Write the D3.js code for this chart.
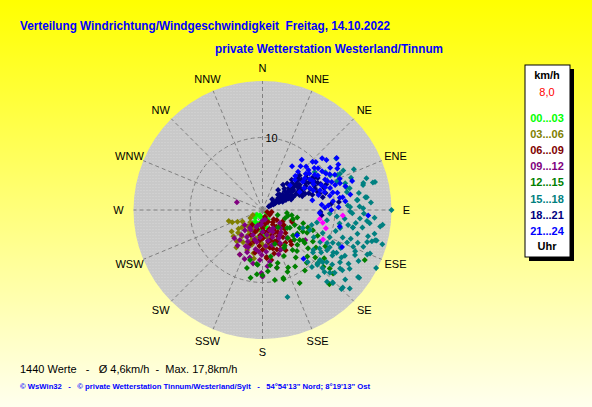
<!DOCTYPE html>
<html lang="de">
<head>
<meta charset="UTF-8">
<title>Verteilung Windrichtung/Windgeschwindigkeit</title>
<script src="https://cdn.jsdelivr.net/npm/d3@7"></script>
<style>
  html, body { margin: 0; padding: 0; overflow: hidden; }
  svg { display: block; font-family: "Liberation Sans", Arial, sans-serif; }
  text { white-space: pre; }
</style>
</head>
<body>
<div id="chart"></div>
<script>
// Windrichtungen (Grad) und Geschwindigkeiten (km/h), je Stundenband
const directions = ["N","NNE","NE","ENE","E","ESE","SE","SSE","S","SSW","SW","WSW","W","WNW","NW","NNW"];
const ringTicks = [10];
const maxSpeed = 17.8;
const bandLabels = ["00...03","03...06","06...09","09...12","12...15","15...18","18...21","21...24"];
const bandColors = ["#00ff00","#808000","#800000","#800080","#008000","#008080","#000080","#0000ff"];

const h00_03 = [[124,0.7],[206,0.8],[223,1.5],[180,2.1],[197,2.6],[159,1.8],[179,3.0],[189,3.9],[216,2.2],[170,1.2],
  [195,1.0],[150,1.5],[185,1.6],[200,3.2],[165,2.6],[210,1.9],[175,3.4],[230,1.0],
  [185,2.8],[195,2.0],[175,2.3],[205,2.6],[160,1.0]];
const h03_06 = [[248,4.5],[252,4.9],[230,3.7],[227,4.6],[211,5.2],[210,4.0],[197,5.0],[188,5.6],[201,5.9],[192,6.1],
  [176,5.3],[237,2.0],[242,1.5],[162,4.6],[163,3.6],[186,3.5],[207,6.9],[219,5.6],[171,4.9],[222,3.0],
  [200,4.4],[183,4.5],[215,6.3],[235,5.2],[195,3.0],[170,3.9],[225,2.4],[205,2.8],
  [240,3.2],[232,4.2],[218,4.6],[213,3.4],[203,5.2],[193,4.0],[180,4.8],[245,3.8],[228,5.4],[190,6.8]];
const h06_09 = [[114,0.7],[124,1.2],[163,1.2],[155,1.8],[145,2.5],[125,2.4],[131,3.6],[145,3.7],[159,3.7],[179,3.9],
  [159,4.7],[143,4.7],[175,6.7],[109,4.3],[112,4.4],[199,3.2],[215,2.5],[180,2.5],[169,5.3],[156,6.0],
  [154,4.6],[170,7.0],[175,6.5],[153,5.4],[102,1.3],[140,3.0],[165,3.0],[190,2.0],[150,4.2],[135,4.5],
  [185,5.0],[160,5.8],[130,2.0],[170,2.0],[145,5.5],[195,4.5],[120,3.2],[165,4.3],[205,3.8],[140,6.2],
  [150,3.5],[160,2.8],[170,4.5],[175,3.0],[185,3.5],[195,2.8],[145,3.0],[135,3.2],[155,5.0],[165,5.5],
  [180,5.5],[190,6.0],[130,4.0],[125,3.6],[140,2.2],[175,1.5],[160,1.0],[150,6.4],[165,6.2],[185,4.2],
  [200,5.0],[138,5.8]];
const h09_12 = [[287,3.7],[221,3.7],[217,5.2],[210,4.3],[190,4.5],[181,6.2],[207,6.9],[181,8.7],[166,8.2],[172,7.2],
  [152,5.2],[150,2.9],[139,5.1],[125,7.2],[170,3.5],[201,3.7],[197,2.2],[166,1.4],[127,3.0],[201,5.5],
  [200,6.2],[183,6.9],[160,4.0],[180,3.0],[190,5.5],[215,3.0],[145,4.2],[175,5.0],[230,3.2],[160,6.5],
  [185,2.0],[135,3.5],[205,4.8],[195,6.8],[155,3.3],[180,9.2],
  [160,3.0],[170,4.3],[185,3.8],[195,4.2],[205,5.5],[210,3.2],[220,4.5],[175,5.8],[165,5.0],[150,4.5],
  [140,4.0],[190,7.5],[200,7.2],[175,7.8],[155,6.0],[185,5.8],[215,6.0],[225,5.5],[180,1.5],[200,2.5]];
const h12_15 = [[123,4.5],[116,5.7],[115,4.9],[138,5.2],[135,6.8],[128,7.4],[130,8.2],[143,6.9],[172,7.7],[185,7.6],
  [194,7.1],[195,8.3],[180,9.0],[163,9.8],[150,9.0],[153,11.3],[108,2.2],[110,3.3],[97,3.4],[100,4.1],
  [186,7.5],[164,7.6],[156,8.7],[138,13.8],[132,13.1],[133,11.5],[134,10.6],[163,10.0],[166,8.2],[122,8.2],
  [116,15.7],[117,6.9],[129,6.6],[130,5.5],[126,4.2],[138,3.2],[102,4.9],[103,3.6],[108,5.9],[111,6.7],
  [112,7.5],[127,7.0],[131,12.3],[150,6.0],[140,9.5],[120,10.0],[145,8.0],[160,5.0],[125,9.0],[170,9.8],
  [155,7.0],[190,9.5],
  [118,6.3],[124,5.8],[133,6.0],[140,7.4],[145,10.2],[158,9.2],[175,8.5],[132,9.8],[128,10.8],[136,8.9],
  [115,8.4],[107,4.4],[148,5.8],[170,6.5],[185,8.9]];
const h15_18 = [[64,12.4],[65,11.4],[75,12.0],[76,16.0],[75,14.4],[83,14.5],[88,13.4],[91,12.1],[96,14.5],[98,16.4],
  [105,16.1],[106,17.2],[117,17.6],[124,14.5],[124,12.9],[123,11.5],[122,10.5],[131,10.5],[113,7.1],[130,9.1],
  [133,12.7],[136,13.9],[138,13.3],[164,12.5],[104,13.5],[101,12.7],[109,11.7],[111,12.5],[100,10.8],[95,10.3],
  [93,9.3],[116,14.2],[107,15.1],[112,16.0],[119,13.0],[115,10.7],[111,8.9],[103,7.7],[119,9.1],[127,13.4],
  [134,11.5],[125,16.3],[90,17.8],[84,13.2],[87,11.8],[92,12.4],[96,11.4],[100,12.0],[101,12.7],[104,15.0],
  [105,16.3],[106,15.7],[109,13.9],[114,14.0],[113,15.7],[127,13.8],[130,14.9],[131,13.2],[135,12.1],[128,8.9],
  [107,7.1],[114,6.1],[121,11.4],[121,12.7],[129,11.4],[134,10.6],[125,16.1],[135,15.4],[136,14.0],[119,10.6],
  [97,14.9],[76,15.7],[76,14.3],[76,12.4],[72,12.0],[83,14.3],[84,13.1],[97,16.7],[95,13.5],[55,12.4],
  [65,11.8],[63,10.5],[69,11.0],[78,11.9],[88,12.1],[89,13.9],[59,10.1],[54,8.9],[139,9.5],[135,10.7],
  [134,15.4],[139,10.4],
  [100,14.0],[103,11.0],[108,12.8],[112,13.5],[116,12.0],[118,15.0],[120,11.8],[122,14.0],[126,10.0],[128,12.2],
  [131,11.0],[94,15.5],[98,13.0],[102,15.8],[110,14.8],[114,11.5],[117,10.0],[124,9.5],[80,13.5],[86,15.0],
  [92,14.0],[70,13.0],[66,13.8],[73,15.0],[132,16.2],[140,12.0],[112,10.0],[106,10.5],[99,9.0],[118,8.0]];
const h18_21 = [[60,1.0],[58,1.5],[62,2.0],[55,2.5],[65,2.5],[57,3.0],[63,3.2],[52,3.5],[60,3.8],[67,3.5],
  [55,4.2],[62,4.5],[50,4.8],[58,5.0],[65,5.0],[53,5.5],[60,5.8],[68,5.5],[56,6.2],[63,6.5],
  [50,6.5],[58,7.0],[66,7.2],[54,7.5],[61,7.8],[70,6.8],[57,8.2],[64,8.5],[72,8.0],[75,9.0],
  [68,9.5],[92,8.0],[95,8.2],[84,10.6],[61,1.3],[59,2.3],[64,2.8],[56,3.4],[61,4.1],[58,4.6],
  [54,5.2],[63,5.4],[59,6.0],[66,6.0],[52,6.0],[61,6.8],[55,7.0],[68,7.8],[60,8.8],[85,9.5],
  [78,8.5],[47,7.0],[70,4.2],[66,3.9],[39,4.5],[38,3.5],[46,6.6],[43,5.0],[45,3.0],[42,2.0],
  [57,1.8],[63,1.7],[53,2.8],[60,3.0],[68,3.0],[50,4.0],[57,4.0],[64,4.0],[48,5.5],[55,5.8],
  [62,6.0],[69,6.3],[52,6.8],[59,7.4],[65,7.9],[51,7.8],[58,8.5],[62,8.2],[66,8.8],[70,9.0],
  [46,4.2],[44,5.8],[49,6.2],[53,4.6],[67,4.6],[71,5.8],[73,7.2],[74,8.2],[56,5.1],[62,3.5],
  [48,3.2],[53,1.9]];
const h21_24 = [[38,8.8],[49,10.9],[55,12.5],[34,7.3],[48,9.9],[58,11.0],[72,13.0],[93,14.6],[71,11.3],[76,10.0],
  [93,7.9],[115,12.1],[140,8.8],[47,6.1],[53,7.3],[56,8.7],[64,9.6],[65,7.2],[71,8.4],[78,9.5],
  [64,5.7],[48,5.1],[71,10.6],[53,9.6],[49,8.4],[43,7.2],[60,10.1],[81,10.8],[79,7.0],[86,9.1],
  [64,11.1],[81,11.2],[60,8.0],[67,8.8],[55,6.8],[70,9.2],[75,8.0],[62,6.5],[50,7.8],[58,9.0],
  [85,8.2],[68,10.3],[52,11.2],[102,10.9],[126,5.9],
  [45,8.5],[51,9.2],[57,9.8],[62,10.5],[66,9.8],[72,9.8],[77,10.6],[83,9.8],[88,8.6],[63,7.9],
  [69,7.5],[74,8.9],[57,7.8],[52,8.2],[46,9.6],[61,11.8],[68,11.5],[74,11.9],[80,12.3],[84,11.5],
  [88,10.5],[90,9.5],[44,6.5],[41,8.0],[59,12.2]];
const latest = [[99,8.0],[94,11.1],[102,8.5],[106,9.1],[116,9.3]];

const bands = [h00_03, h03_06, h06_09, h09_12, h12_15, h15_18, h18_21, h21_24];

const width = 592, height = 407;
const cx = 262.5, cy = 210, outerR = 129;

const svg = d3.select('#chart').append('svg')
  .attr('width', width)
  .attr('height', height);

const defs = svg.append('defs');
const grad = defs.append('linearGradient')
  .attr('id', 'bg').attr('x1', 0).attr('y1', 0).attr('x2', 0).attr('y2', 1);
grad.append('stop').attr('offset', '0%').attr('stop-color', '#ffff00');
grad.append('stop').attr('offset', '100%').attr('stop-color', '#ffffee');

const pat = defs.append('pattern')
  .attr('id', 'dots').attr('width', 3).attr('height', 3)
  .attr('patternUnits', 'userSpaceOnUse');
pat.append('rect').attr('width', 3).attr('height', 3).attr('fill', '#c9c9c9');
pat.append('rect').attr('x', 1).attr('y', 1).attr('width', 1).attr('height', 1).attr('fill', '#d6d6d6');

svg.append('rect').attr('width', width).attr('height', height).attr('fill', 'url(#bg)');

// Titel
svg.append('text')
  .attr('x', 20).attr('y', 30)
  .attr('textLength', 370).attr('lengthAdjust', 'spacingAndGlyphs')
  .style('font-size', '12.5px').style('font-weight', 'bold').style('fill', '#0000ff')
  .text('Verteilung Windrichtung/Windgeschwindigkeit  Freitag, 14.10.2022');
svg.append('text')
  .attr('x', 215).attr('y', 53)
  .attr('textLength', 228).attr('lengthAdjust', 'spacingAndGlyphs')
  .style('font-size', '12.5px').style('font-weight', 'bold').style('fill', '#0000ff')
  .text('private Wetterstation Westerland/Tinnum');

// Polarplot
const r = d3.scaleLinear().domain([0, maxSpeed]).range([0, outerR]);
const angle = d3.scaleLinear().domain([0, 360]).range([0, 2 * Math.PI]);

const plot = svg.append('g').attr('transform', `translate(${cx},${cy})`);

plot.append('circle').attr('r', outerR).attr('fill', 'url(#dots)');

plot.selectAll('.ring')
  .data(ringTicks)
  .enter().append('circle')
    .attr('class', 'ring')
    .attr('r', d => r(d))
    .attr('fill', 'none')
    .attr('stroke', '#808080')
    .attr('stroke-dasharray', '4,3');

plot.selectAll('.spoke')
  .data(directions)
  .enter().append('line')
    .attr('class', 'spoke')
    .attr('x1', 0).attr('y1', 0)
    .attr('x2', (d, i) => Math.sin(angle(i * 22.5)) * outerR)
    .attr('y2', (d, i) => -Math.cos(angle(i * 22.5)) * outerR)
    .attr('stroke', '#808080')
    .attr('stroke-dasharray', '4,3');

plot.selectAll('.dirlabel')
  .data(directions)
  .enter().append('text')
    .attr('class', 'dirlabel')
    .attr('x', (d, i) => Math.sin(angle(i * 22.5)) * 144)
    .attr('y', (d, i) => -Math.cos(angle(i * 22.5)) * 142 + 4)
    .attr('text-anchor', 'middle')
    .style('font-size', '11px')
    .style('fill', '#000')
    .text(d => d);

plot.selectAll('.ringlabel')
  .data(ringTicks)
  .enter().append('text')
    .attr('class', 'ringlabel')
    .attr('x', 3)
    .attr('y', d => -r(d) + 4)
    .style('font-size', '11px')
    .text(d => d);

// Messwerte
const diamond = 'M0,-3L3,0L0,3L-3,0Z';
const px = d => Math.sin(angle(d[0])) * r(d[1]);
const py = d => -Math.cos(angle(d[0])) * r(d[1]);

bands.forEach((band, i) => {
  plot.append('g').selectAll('path')
    .data(band)
    .enter().append('path')
      .attr('d', diamond)
      .attr('transform', d => `translate(${px(d)},${py(d)})`)
      .attr('fill', bandColors[i]);
});

plot.append('g').selectAll('path')
  .data(latest)
  .enter().append('path')
    .attr('d', diamond)
    .attr('transform', d => `translate(${px(d)},${py(d)})`)
    .attr('fill', '#ff00ff');

// Legende
const lg = svg.append('g');
lg.append('rect').attr('x', 529).attr('y', 69).attr('width', 45).attr('height', 192).attr('fill', '#000');
lg.append('rect').attr('x', 525).attr('y', 65).attr('width', 45).attr('height', 192)
  .attr('fill', '#fff').attr('stroke', '#000');
lg.append('text').attr('x', 547).attr('y', 79).attr('text-anchor', 'middle')
  .style('font-size', '11px').style('font-weight', 'bold').text('km/h');
lg.append('text').attr('x', 547).attr('y', 96).attr('text-anchor', 'middle')
  .style('font-size', '11px').style('fill', '#ff0000').text('8,0');
lg.selectAll('.band')
  .data(bandLabels)
  .enter().append('text')
    .attr('class', 'band')
    .attr('x', 547)
    .attr('y', (d, i) => 122 + i * 16.1)
    .attr('text-anchor', 'middle')
    .style('font-size', '11px').style('font-weight', 'bold')
    .style('fill', (d, i) => bandColors[i])
    .text(d => d);
lg.append('text').attr('x', 547).attr('y', 250).attr('text-anchor', 'middle')
  .style('font-size', '11px').style('font-weight', 'bold').text('Uhr');

// Fusszeilen
svg.append('text')
  .attr('x', 20).attr('y', 373)
  .style('font-size', '11px').style('fill', '#000')
  .text('1440 Werte   -   \u00d8 4,6km/h  -  Max. 17,8km/h');
svg.append('text')
  .attr('x', 20).attr('y', 389)
  .attr('textLength', 350).attr('lengthAdjust', 'spacingAndGlyphs')
  .style('font-size', '8px').style('font-weight', 'bold').style('fill', '#0000ff')
  .text('\u00a9 WsWin32   -   \u00a9 private Wetterstation Tinnum/Westerland/Sylt   -   54\u00b054\'13" Nord; 8\u00b019\'13" Ost');
</script>
</body>
</html>
